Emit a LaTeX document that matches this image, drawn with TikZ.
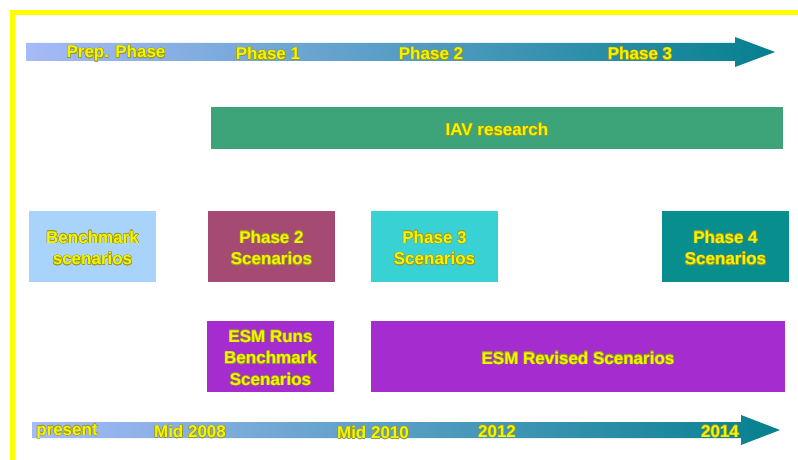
\documentclass[tikz,border=0pt]{standalone}
\usepackage{fontspec}
\setmainfont{Liberation Sans}
\usepackage[copies]{contour}
\contourlength{0.45pt}
\contournumber{16}

\definecolor{framey}{HTML}{FFFF00}
\definecolor{txty}{HTML}{F4F400}
\definecolor{txtedge}{HTML}{9A9A28}
\definecolor{barL}{HTML}{A6BAF8}
\definecolor{barM}{HTML}{7EA0D8}
\definecolor{barR}{HTML}{05808E}
\definecolor{benchc}{HTML}{A8D4FC}
\definecolor{ph2c}{HTML}{A54A72}
\definecolor{ph3c}{HTML}{38D2D4}
\definecolor{ph4c}{HTML}{088F8D}
\definecolor{iavc}{HTML}{3CA478}
\definecolor{esmc}{HTML}{A52DCF}

\newcommand{\yl}[1]{\contour{txtedge}{#1}}

\tikzset{
  lbl/.style={font=\bfseries\fontsize{17}{21.5}\selectfont, text=txty,
              align=center, inner sep=0pt, yshift=-1.8pt},
  panel/.style={draw=none, inner sep=0pt},
  phasebox/.style={panel, minimum width=127pt, minimum height=71pt},
  timebar/.style={left color=barL, middle color=barM, right color=barR, draw=none},
}

\begin{document}
\begin{tikzpicture}[x=1pt,y=-1pt]
\useasboundingbox (0,0) rectangle (798,460);
\fill[white] (0,0) rectangle (798,460);

% open yellow frame (top and left edges)
\draw[framey, line width=5pt] (10,12.5) -- (798,12.5);
\draw[framey, line width=5pt] (12.5,10) -- (12.5,460);

% top timeline arrow
\path[timebar] (26,43) -- (735,43) -- (735,37) -- (775,52) -- (735,67)
  -- (735,61) -- (26,61) -- cycle;
\node[lbl] (prep) at (116,52) {\yl{Prep. Phase}};
\node[lbl] (ph1)  at (268,52) {\yl{Phase 1}};
\node[lbl] (ph2)  at (431,52) {\yl{Phase 2}};
\node[lbl] (ph3)  at (640,52) {\yl{Phase 3}};

% bottom timeline arrow
\path[timebar] (32,422) -- (741,422) -- (741,415) -- (780,430) -- (741,445)
  -- (741,438) -- (32,438) -- cycle;
\node[lbl] (present) at (67,430)  {\yl{present}};
\node[lbl] (mid08)   at (190,430) {\yl{Mid 2008}};
\node[lbl] (mid10)   at (373,431) {\yl{Mid 2010}};
\node[lbl] (y12)     at (497,430) {\yl{2012}};
\node[lbl] (y14)     at (720,430) {\yl{2014}};

% IAV research band
\node[panel, fill=iavc, minimum width=572pt, minimum height=42pt] (iav) at (497,128) {};
\node[lbl] (iavt) at (iav.center) {\yl{IAV research}};

% scenario boxes
\node[phasebox, fill=benchc] (bench) at (92.5,246.5) {};
\node[lbl] (bencht) at (bench.center) {\yl{Benchmark}\\\yl{scenarios}};
\node[phasebox, fill=ph2c] (sc2) at (271.5,246.5) {};
\node[lbl] (sc2t) at (sc2.center) {\yl{Phase 2}\\\yl{Scenarios}};
\node[phasebox, fill=ph3c] (sc3) at (434.5,246.5) {};
\node[lbl] (sc3t) at (sc3.center) {\yl{Phase 3}\\\yl{Scenarios}};
\node[phasebox, fill=ph4c] (sc4) at (725.5,246.5) {};
\node[lbl] (sc4t) at (sc4.center) {\yl{Phase 4}\\\yl{Scenarios}};

% ESM runs
\node[phasebox, fill=esmc] (esm1) at (270.5,356.5) {};
\node[lbl] (esm1t) at (esm1.center) {\yl{ESM Runs}\\\yl{Benchmark}\\\yl{Scenarios}};
\node[panel, fill=esmc, minimum width=414pt, minimum height=71pt] (esm2) at (578,356.5) {};
\node[lbl] (esm2t) at (esm2.center) {\yl{ESM Revised Scenarios}};
\end{tikzpicture}
\end{document}
